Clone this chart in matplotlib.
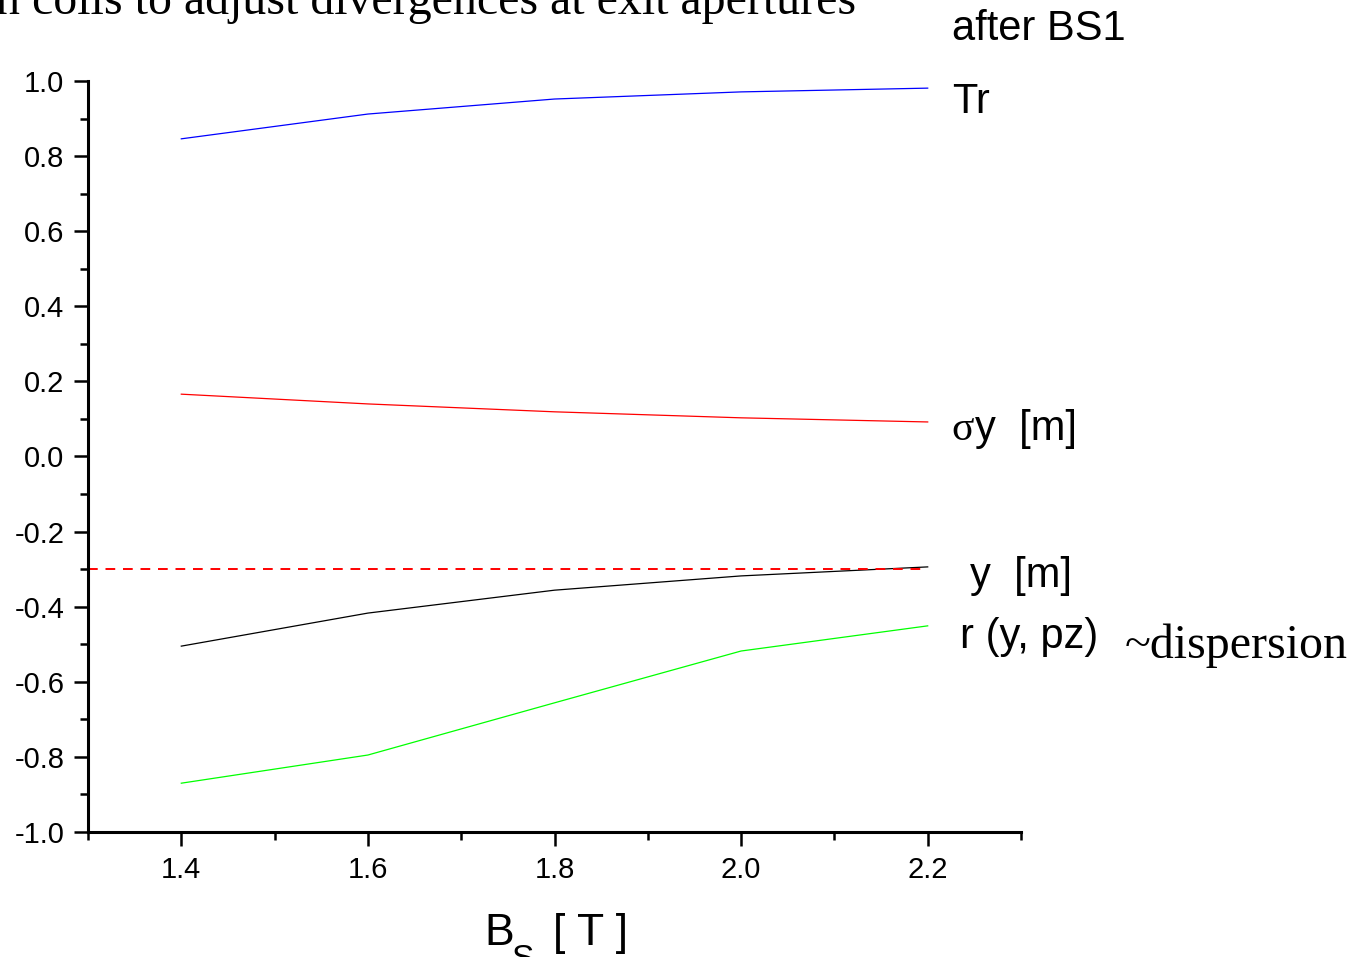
import matplotlib
matplotlib.use("Agg")
import matplotlib.pyplot as plt
from matplotlib.ticker import MultipleLocator

bs = [1.4, 1.6, 1.8, 2.0, 2.2]
tr = [0.846, 0.912, 0.952, 0.971, 0.981]
sigma_y = [0.166, 0.140, 0.119, 0.103, 0.092]
y_pos = [-0.505, -0.417, -0.356, -0.318, -0.294]
r_ypz = [-0.870, -0.795, -0.656, -0.518, -0.451]
limit_y = -0.3

plt.rcParams['font.family'] = ['Liberation Sans', 'DejaVu Sans']

fig = plt.figure(figsize=(13.59, 9.57), dpi=100)
ax = fig.add_axes([88/1359, 1-832/957, (1021-88)/1359, (832-81)/957])

ax.plot(bs, tr, color='#0000ff', lw=0.9)
ax.plot(bs, sigma_y, color='#ff0000', lw=0.9)
ax.plot(bs, y_pos, color='black', lw=0.9)
ax.plot(bs, r_ypz, color='#00ff00', lw=0.9)
ax.plot([1.3, bs[-1]], [limit_y, limit_y], color='#ff0000', lw=1.4, ls=(0, (5, 4)))

ax.set_xlim(1.3, 2.3)
ax.set_ylim(-1.0, 1.0)
for s in ['top', 'right']:
    ax.spines[s].set_visible(False)
for s in ['left', 'bottom']:
    ax.spines[s].set_linewidth(2.2)
ax.xaxis.set_minor_locator(MultipleLocator(0.1))
ax.yaxis.set_minor_locator(MultipleLocator(0.1))
ax.set_xticks([1.4, 1.6, 1.8, 2.0, 2.2])
ax.set_xticklabels(['1.4', '1.6', '1.8', '2.0', '2.2'])
ax.set_yticks([1.0, 0.8, 0.6, 0.4, 0.2, 0.0, -0.2, -0.4, -0.6, -0.8, -1.0])
ax.set_yticklabels(['1.0', '0.8', '0.6', '0.4', '0.2', '0.0', '-0.2', '-0.4', '-0.6', '-0.8', '-1.0'])
ax.tick_params(which='major', direction='out', length=10, width=1.8, labelsize=21, pad=7)
ax.tick_params(which='minor', direction='out', length=6, width=1.8)

def fx(px):
    return px / 1359
def fy(py):
    return 1 - py / 957

fig.text(fx(-4), fy(14), "n coils to adjust divergences at exit apertures",
         family='Liberation Serif', fontsize=34.5, va='baseline', ha='left')
fig.text(fx(952), fy(40), "after BS1", fontsize=30, va='baseline')
fig.text(fx(952), fy(113), "Tr", fontsize=30, va='baseline')
fig.text(fx(951), fy(440), "\u03c3", family='Liberation Serif', fontsize=30, va='baseline')
fig.text(fx(975), fy(440), "y  [m]", fontsize=30, va='baseline')
fig.text(fx(970), fy(587), "y  [m]", fontsize=30, va='baseline')
fig.text(fx(960), fy(648), "r (y, pz)", fontsize=30, va='baseline')
fig.text(fx(1125), fy(658), "~dispersion", family='Liberation Serif', fontsize=34.5, va='baseline')
fig.text(fx(484), fy(945), "B", fontsize=32, va='baseline', ha='left')
fig.text(fx(511), fy(968), "S", fontsize=24, va='baseline', ha='left')
fig.text(fx(553), fy(945), "[ T ]", fontsize=32, va='baseline', ha='left')

fig.savefig("out.png", dpi=100)
